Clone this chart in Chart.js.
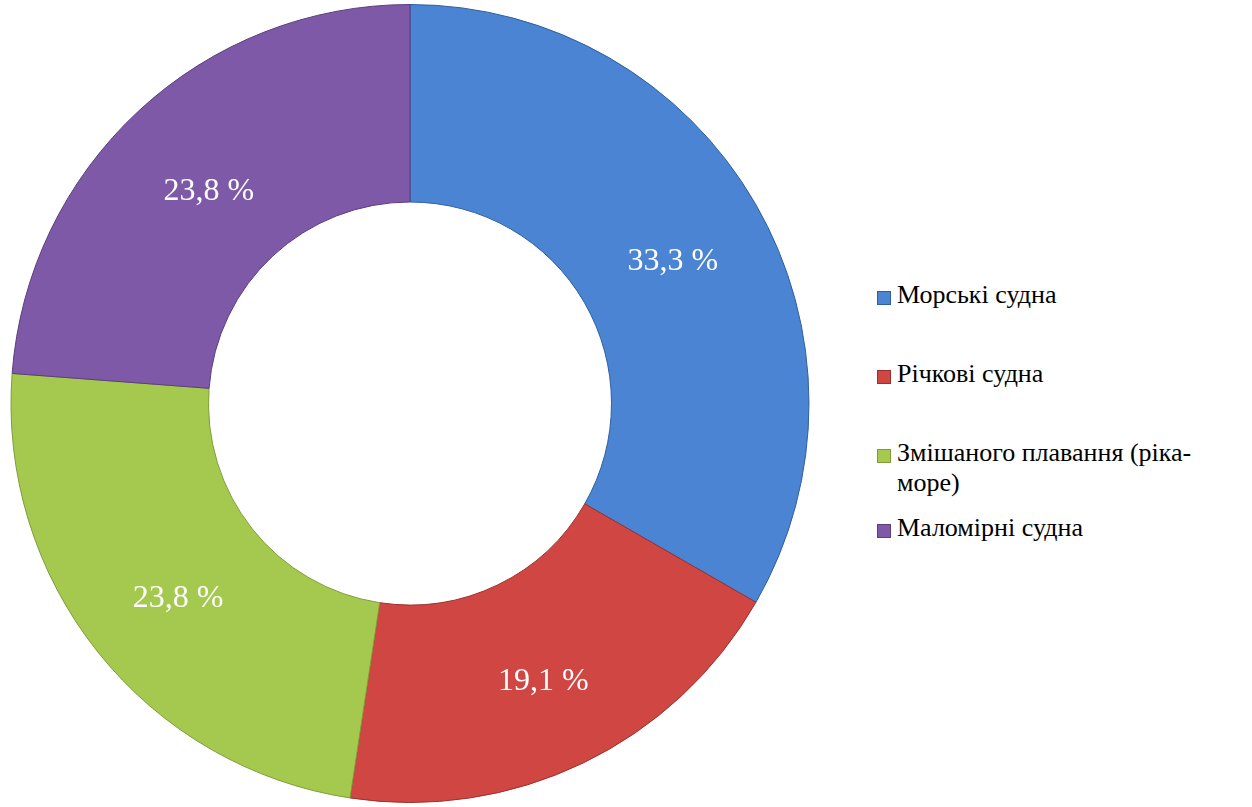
<!DOCTYPE html>
<html>
<head>
<meta charset="utf-8">
<script src="https://cdn.jsdelivr.net/npm/chart.js@4/dist/chart.umd.min.js"></script>
<style>
  html, body { margin: 0; padding: 0; background: #fff; }
  #wrap { position: relative; width: 1252px; height: 807px; }
  #chart-box { position: absolute; left: 0; top: 0; width: 820px; height: 807px; }
  #legend { position: absolute; left: 877px; top: 280px; width: 300px;
    font-family: "Liberation Serif", "DejaVu Serif", serif; font-size: 26px; color: #000; }
  #legend .item { position: relative; padding-left: 20px; line-height: 30px; }
  #legend .box { position: absolute; left: 0; top: 11px; width: 12px; height: 12px; }
</style>
</head>
<body>
<div id="wrap">
  <div id="chart-box"><canvas id="chart"></canvas></div>
  <div id="legend"></div>
</div>
<script>
var labels = ['Морські судна', 'Річкові судна', 'Змішаного плавання (ріка-море)', 'Маломірні судна'];
var values = [33.3, 19.1, 23.8, 23.8];
var value_text = ['33,3 %', '19,1 %', '23,8 %', '23,8 %'];
var colors = ['#4a84d2', '#cf4642', '#a5c94f', '#7e59a7'];
var edge_colors = ['#2f5f9e', '#9c302c', '#7f9c38', '#5a3e7d'];

// legend (html, wrapped like the original)
var legend_lines = [['Морські судна'], ['Річкові судна'], ['Змішаного плавання (ріка-', 'море)'], ['Маломірні судна']];
var legend_tops = [0, 79, 158, 233];
var legend = document.getElementById('legend');
legend_lines.forEach(function(lines, i) {
  var div = document.createElement('div');
  div.className = 'item';
  div.style.position = 'absolute';
  div.style.top = legend_tops[i] + 'px';
  div.style.whiteSpace = 'nowrap';
  div.innerHTML = '<span class="box" style="background:' + colors[i] + ';border:1px solid ' + edge_colors[i] + '"></span>' + lines.join('<br>');
  legend.appendChild(div);
});

var value_labels = {
  id: 'value_labels',
  afterDatasetsDraw: function(chart) {
    var ctx = chart.ctx;
    var meta = chart.getDatasetMeta(0);
    ctx.save();
    ctx.fillStyle = '#ffffff';
    ctx.font = '32px "Liberation Serif", "DejaVu Serif", serif';
    ctx.textAlign = 'center';
    ctx.textBaseline = 'middle';
    meta.data.forEach(function(arc, i) {
      var p = arc.getCenterPoint();
      ctx.fillText(value_text[i], p.x + 3, p.y + 8);
    });
    ctx.restore();
  }
};

var ctx = document.getElementById('chart');
window.myChart = new Chart(ctx, {
  type: 'doughnut',
  data: {
    labels: labels,
    datasets: [{
      data: values,
      backgroundColor: colors,
      borderColor: edge_colors,
      borderWidth: 1
    }]
  },
  options: {
    responsive: true,
    maintainAspectRatio: false,
    animation: false,
    cutout: '50.5%',
    layout: { padding: 4 },
    plugins: {
      legend: { display: false },
      tooltip: { enabled: false }
    }
  },
  plugins: [value_labels]
});
</script>
</body>
</html>
